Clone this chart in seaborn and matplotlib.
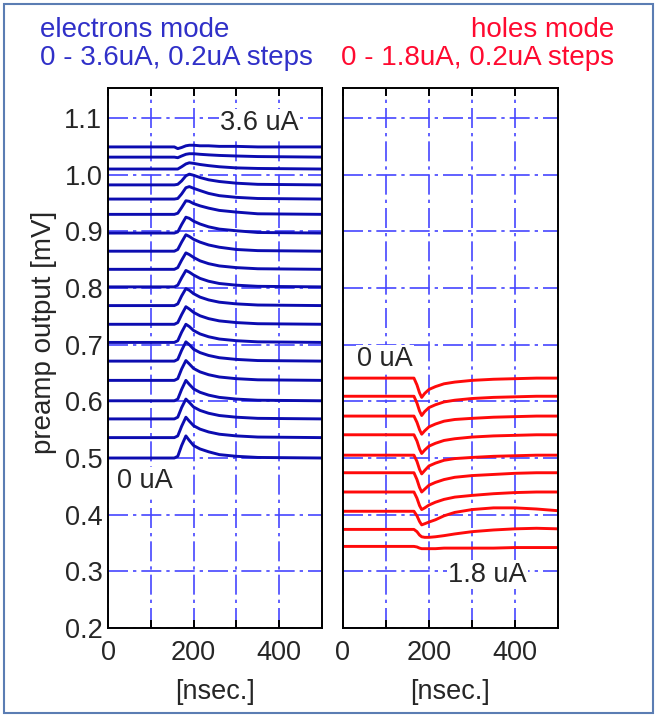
import matplotlib
matplotlib.use("Agg")
import matplotlib.pyplot as plt
import pandas as pd
import seaborn as sns
from matplotlib.patches import Rectangle

# ---------------- data ----------------
# electrons mode: time points [nsec] and one trace per current step (0 - 3.6 uA)
t_e = [0, 155, 163, 172, 182, 190, 200, 215, 235, 260, 300, 350, 500]
e_currents = [0.0, 0.2, 0.4, 0.6, 0.8, 1.0, 1.2, 1.4, 1.6, 1.8,
              2.0, 2.2, 2.4, 2.6, 2.8, 3.0, 3.2, 3.4, 3.6]
e_00 = [0.500, 0.500, 0.503, 0.522, 0.539, 0.531, 0.522, 0.516, 0.511, 0.506, 0.503, 0.501, 0.500]
e_02 = [0.536, 0.536, 0.539, 0.556, 0.572, 0.565, 0.557, 0.551, 0.546, 0.542, 0.539, 0.537, 0.536]
e_04 = [0.569, 0.569, 0.572, 0.589, 0.604, 0.598, 0.590, 0.584, 0.579, 0.575, 0.572, 0.570, 0.569]
e_06 = [0.601, 0.601, 0.604, 0.621, 0.637, 0.630, 0.622, 0.616, 0.611, 0.607, 0.604, 0.602, 0.601]
e_08 = [0.637, 0.637, 0.640, 0.657, 0.672, 0.666, 0.658, 0.652, 0.647, 0.643, 0.640, 0.638, 0.637]
e_10 = [0.671, 0.671, 0.674, 0.690, 0.705, 0.700, 0.692, 0.686, 0.681, 0.677, 0.674, 0.672, 0.671]
e_12 = [0.704, 0.704, 0.707, 0.722, 0.736, 0.732, 0.725, 0.719, 0.714, 0.710, 0.707, 0.705, 0.704]
e_14 = [0.736, 0.736, 0.739, 0.753, 0.767, 0.763, 0.757, 0.751, 0.746, 0.742, 0.739, 0.737, 0.736]
e_16 = [0.769, 0.769, 0.772, 0.786, 0.799, 0.796, 0.790, 0.784, 0.779, 0.775, 0.772, 0.770, 0.769]
e_18 = [0.802, 0.802, 0.805, 0.818, 0.831, 0.828, 0.823, 0.817, 0.812, 0.808, 0.805, 0.803, 0.802]
e_20 = [0.833, 0.833, 0.836, 0.849, 0.862, 0.859, 0.854, 0.848, 0.843, 0.839, 0.836, 0.834, 0.833]
e_22 = [0.865, 0.865, 0.868, 0.881, 0.894, 0.891, 0.886, 0.881, 0.876, 0.872, 0.868, 0.866, 0.865]
e_24 = [0.897, 0.897, 0.899, 0.912, 0.925, 0.923, 0.918, 0.913, 0.908, 0.904, 0.901, 0.898, 0.897]
e_26 = [0.930, 0.930, 0.932, 0.942, 0.954, 0.953, 0.949, 0.945, 0.941, 0.937, 0.934, 0.931, 0.930]
e_28 = [0.957, 0.957, 0.958, 0.966, 0.977, 0.979, 0.976, 0.972, 0.967, 0.963, 0.960, 0.958, 0.957]
e_30 = [0.982, 0.982, 0.983, 0.989, 0.998, 1.001, 0.999, 0.995, 0.991, 0.988, 0.985, 0.983, 0.982]
e_32 = [1.010, 1.010, 1.010, 1.014, 1.019, 1.021, 1.020, 1.018, 1.016, 1.014, 1.012, 1.011, 1.010]
e_34 = [1.031, 1.031, 1.030, 1.033, 1.036, 1.037, 1.037, 1.036, 1.035, 1.034, 1.033, 1.032, 1.031]
e_36 = [1.049, 1.049, 1.046, 1.048, 1.051, 1.052, 1.052, 1.051, 1.051, 1.050, 1.050, 1.049, 1.049]

# holes mode: time points [nsec] and one trace per current step (0 - 1.8 uA)
t_h = [0, 165, 172, 178, 183, 190, 200, 215, 235, 260, 300, 350, 400, 450, 500]
h_currents = [0.0, 0.2, 0.4, 0.6, 0.8, 1.0, 1.2, 1.4, 1.6, 1.8]
h_00 = [0.641, 0.641, 0.629, 0.615, 0.607, 0.614, 0.621, 0.626, 0.631, 0.634, 0.637, 0.639, 0.640, 0.641, 0.641]
h_02 = [0.609, 0.609, 0.597, 0.583, 0.575, 0.582, 0.589, 0.594, 0.599, 0.602, 0.605, 0.607, 0.608, 0.609, 0.609]
h_04 = [0.574, 0.574, 0.563, 0.550, 0.542, 0.548, 0.555, 0.560, 0.565, 0.568, 0.570, 0.572, 0.573, 0.574, 0.574]
h_06 = [0.541, 0.541, 0.530, 0.516, 0.508, 0.514, 0.521, 0.526, 0.531, 0.534, 0.537, 0.539, 0.540, 0.541, 0.541]
h_08 = [0.505, 0.505, 0.494, 0.480, 0.472, 0.478, 0.486, 0.491, 0.496, 0.499, 0.501, 0.503, 0.504, 0.505, 0.505]
h_10 = [0.474, 0.474, 0.462, 0.448, 0.440, 0.445, 0.452, 0.457, 0.462, 0.466, 0.469, 0.471, 0.473, 0.474, 0.474]
h_12 = [0.440, 0.440, 0.429, 0.416, 0.409, 0.412, 0.417, 0.422, 0.427, 0.431, 0.434, 0.437, 0.439, 0.440, 0.440]
h_14 = [0.406, 0.406, 0.398, 0.388, 0.382, 0.384, 0.387, 0.391, 0.398, 0.404, 0.409, 0.412, 0.412, 0.410, 0.407]
h_16 = [0.374, 0.374, 0.370, 0.364, 0.361, 0.360, 0.360, 0.361, 0.363, 0.366, 0.370, 0.373, 0.375, 0.376, 0.375]
h_18 = [0.344, 0.344, 0.343, 0.341, 0.340, 0.340, 0.340, 0.340, 0.341, 0.341, 0.341, 0.341, 0.342, 0.342, 0.342]

x_ticks = [0, 100, 200, 300, 400, 500]
x_ticklabels = ["0", "", "200", "", "400", ""]
y_ticks = [0.2, 0.3, 0.4, 0.5, 0.6, 0.7, 0.8, 0.9, 1.0, 1.1]
y_ticklabels = ["0.2", "0.3", "0.4", "0.5", "0.6", "0.7", "0.8", "0.9", "1.0", "1.1"]

# ---------------- build long tables ----------------
e_traces = [e_00, e_02, e_04, e_06, e_08, e_10, e_12, e_14, e_16, e_18,
            e_20, e_22, e_24, e_26, e_28, e_30, e_32, e_34, e_36]
h_traces = [h_00, h_02, h_04, h_06, h_08, h_10, h_12, h_14, h_16, h_18]

rows = []
for cur, tr in zip(e_currents, e_traces):
    for t, v in zip(t_e, tr):
        rows.append({"t": t, "v": v, "current": cur})
df_e = pd.DataFrame(rows)
rows = []
for cur, tr in zip(h_currents, h_traces):
    for t, v in zip(t_h, tr):
        rows.append({"t": t, "v": v, "current": cur})
df_h = pd.DataFrame(rows)

# ---------------- figure ----------------
sns.set_style("white")
plt.rcParams["font.family"] = ["Liberation Sans", "DejaVu Sans"]

W, H = 657, 717
fig = plt.figure(figsize=(W / 100, H / 100), dpi=100)
ax1 = fig.add_axes([108 / W, 1 - 628 / H, 214 / W, 540 / H])
ax2 = fig.add_axes([343 / W, 1 - 628 / H, 215 / W, 540 / H])

grid_color = "#4646ff"
grid_ls = (0, (12, 3, 2, 3))
FS = 19.5

for ax, df, col in [(ax1, df_e, "#0c0cb0"), (ax2, df_h, "#ff0a0a")]:
    sns.lineplot(data=df, x="t", y="v", units="current", estimator=None,
                 color=col, lw=2.1, ax=ax, legend=False, sort=False)
    ax.set_xlim(0, 500)
    ax.set_ylim(0.2, 1.153)
    ax.set_xticks(x_ticks, x_ticklabels)
    ax.set_yticks(y_ticks, y_ticklabels)
    ax.grid(True, color=grid_color, lw=1.2, linestyle=grid_ls)
    ax.tick_params(axis="x", direction="in", top=True, bottom=True,
                   length=6, width=1.4, color="black", labelsize=FS, pad=9)
    ax.tick_params(axis="y", length=0, labelsize=FS, pad=4)
    for s in ax.spines.values():
        s.set_visible(True)
        s.set_color("black")
        s.set_linewidth(1.4)
    ax.set_xlabel("[nsec.]", fontsize=FS)
    ax.xaxis.set_label_coords(0.5, -0.095)
    ax.set_ylabel("")

ax2.tick_params(axis="y", labelleft=False)
ax1.set_ylabel("preamp output [mV]", fontsize=FS + 0.5)
ax1.yaxis.set_label_coords(-0.238, 0.548)

box = dict(fc="white", ec="none", pad=1.0)
ax1.text(262, 1.091, "3.6 uA", fontsize=FS, ha="left", va="center", bbox=box, zorder=5)
ax1.text(21, 0.4595, "0 uA", fontsize=FS, ha="left", va="center", bbox=box, zorder=5)
ax2.text(33, 0.674, "0 uA", fontsize=FS, ha="left", va="center", bbox=box, zorder=5)
ax2.text(244, 0.294, "1.8 uA", fontsize=FS, ha="left", va="center", bbox=box, zorder=5)

blue_t = "#3030c8"
red_t = "#ff0a30"
fig.text(40 / W, 1 - 37 / H, "electrons mode", color=blue_t, fontsize=20, ha="left", va="baseline")
fig.text(40 / W, 1 - 65 / H, "0 - 3.6uA, 0.2uA steps", color=blue_t, fontsize=20, ha="left", va="baseline")
fig.text(614 / W, 1 - 37 / H, "holes mode", color=red_t, fontsize=20, ha="right", va="baseline")
fig.text(614 / W, 1 - 65 / H, "0 - 1.8uA, 0.2uA steps", color=red_t, fontsize=20, ha="right", va="baseline")

fig.patches.append(Rectangle((4 / W, 4 / H), 1 - 8 / W, 1 - 8 / H, transform=fig.transFigure,
                             fill=False, edgecolor="#5b7db3", linewidth=1.5))

fig.savefig("out.png", dpi=100, facecolor="white")
